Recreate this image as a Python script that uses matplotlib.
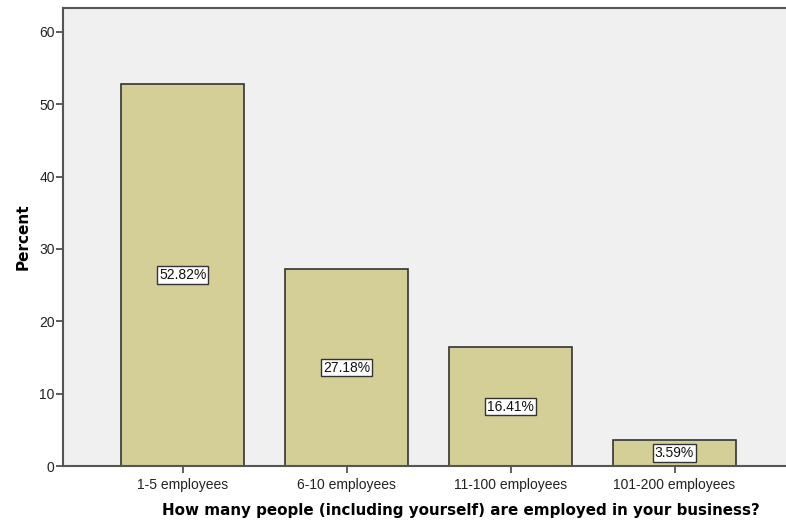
import numpy as np
import matplotlib.pyplot as plt

# data
categories = ['1-5 employees', '6-10 employees', '11-100 employees', '101-200 employees']
percent = [52.82, 27.18, 16.41, 3.59]
yticks = [0, 10, 20, 30, 40, 50, 60]

plt.rcParams['font.family'] = ['Liberation Sans', 'DejaVu Sans']

fig = plt.figure(figsize=(7.86, 5.27), dpi=100)
ax = fig.add_axes([63/786, 61/527, 723/786, 458/527])
ax.set_facecolor('#f0f0f0')

x = np.arange(len(categories))
ax.bar(x, percent, width=0.75, color='#d3cf97', edgecolor='#333333', linewidth=1.2, zorder=2)

for xi, v in zip(x, percent):
    ax.text(xi, v/2, '%.2f%%' % v, ha='center', va='center', fontsize=10, color='#111111', zorder=3,
            bbox=dict(boxstyle='square,pad=0.12', facecolor='white', edgecolor='#333333', linewidth=1))

ax.set_xlim(-0.73, 3.68)
ax.set_ylim(0, 63.3)
ax.set_xticks(x)
ax.set_xticklabels(categories, fontsize=10, color='#222222')
ax.set_yticks(yticks)
ax.set_yticklabels([str(t) for t in yticks], fontsize=10, color='#222222')
ax.tick_params(axis='both', direction='out', length=5, width=1.2, color='#444444')
ax.tick_params(axis='x', pad=4)
ax.tick_params(axis='y', pad=1)

for s in ['left', 'top', 'bottom']:
    ax.spines[s].set_color('#555555')
    ax.spines[s].set_linewidth(1.5)
ax.spines['right'].set_visible(False)

# x title sits a bit right of the axes centre in the original
fig.text(461/786, 1 - 511/527, 'How many people (including yourself) are employed in your business?',
         ha='center', va='center', fontsize=10.9, fontweight='bold', family='DejaVu Sans')
ax.set_ylabel('Percent', fontsize=11, fontweight='bold', family='DejaVu Sans', labelpad=6)

fig.savefig('out.png', dpi=100)
